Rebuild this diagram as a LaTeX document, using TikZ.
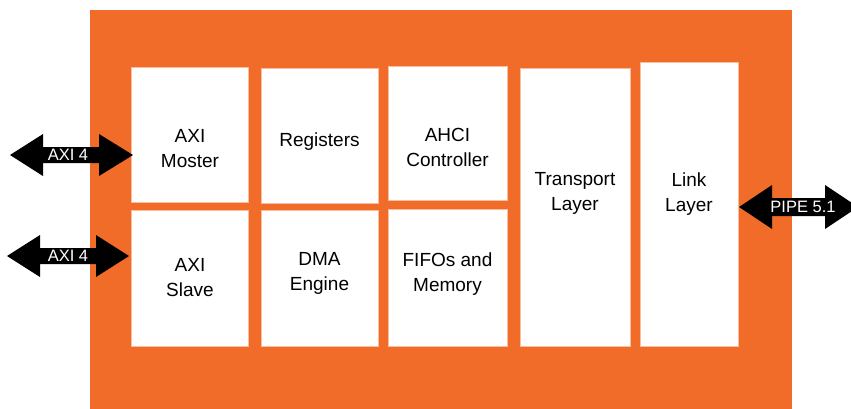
\documentclass[tikz,border=0pt]{standalone}
\usepackage{fontspec}
\setmainfont{Liberation Sans}
\definecolor{chiporange}{RGB}{242,108,41}
\tikzset{
    block/.style={fill=white,draw=chiporange!45,line width=0.6pt},
    lbl/.style={align=center,font=\fontsize{19}{25}\selectfont},
    portlbl/.style={text=white,font=\fontsize{16.5}{18}\selectfont}
}
\begin{document}
\begin{tikzpicture}[x=1pt,y=-1pt]
        \useasboundingbox (0,0) rectangle (851,409);
        \clip (0,0) rectangle (851,409);
        \fill[color=chiporange] (90,10) rectangle (792,412);
        \draw[block] (131,67) rectangle (248,202);
        \draw[block] (131,210) rectangle (248,346);
        \draw[block] (261,68) rectangle (378,203);
        \draw[block] (261,210) rectangle (378,346);
        \draw[block] (388,66) rectangle (507,200);
        \draw[block] (388,209) rectangle (507,346);
        \draw[block] (520,68) rectangle (630,346);
        \draw[block] (640,62) rectangle (738,346);
        \node[lbl] (axim) at (190,149) {AXI\\Moster};
        \node[lbl] (regs) at (319.5,142) {Registers};
        \node[lbl] (ahci) at (447.5,147) {AHCI\\Controller};
        \node[lbl] (axis) at (190,278) {AXI\\Slave};
        \node[lbl] (dma) at (319.5,273) {DMA\\Engine};
        \node[lbl] (fifo) at (447.5,274) {FIFOs and\\Memory};
        \node[lbl] (trans) at (575,193) {Transport\\Layer};
        \node[lbl] (link) at (689,194) {Link\\Layer};
        % ports
        \fill (10,155) -- (43,134) -- (43,147) -- (99,147) -- (99,134) -- (133,155)
            -- (99,176) -- (99,163) -- (43,163) -- (43,176) -- cycle;
        \fill (7,256) -- (40,235) -- (40,248) -- (96,248) -- (96,235) -- (129,256)
            -- (96,277) -- (96,264) -- (40,264) -- (40,277) -- cycle;
        \fill (739,207) -- (772,185) -- (772,198) -- (825,198) -- (825,185) -- (858,207)
            -- (825,229) -- (825,216) -- (772,216) -- (772,229) -- cycle;
        \node[portlbl] (axi1) at (68,155) {AXI 4};
        \node[portlbl] (axi2) at (68,256) {AXI 4};
        \node[portlbl] (pipe) at (803,207) {PIPE 5.1};
    \end{tikzpicture}
\end{document}
